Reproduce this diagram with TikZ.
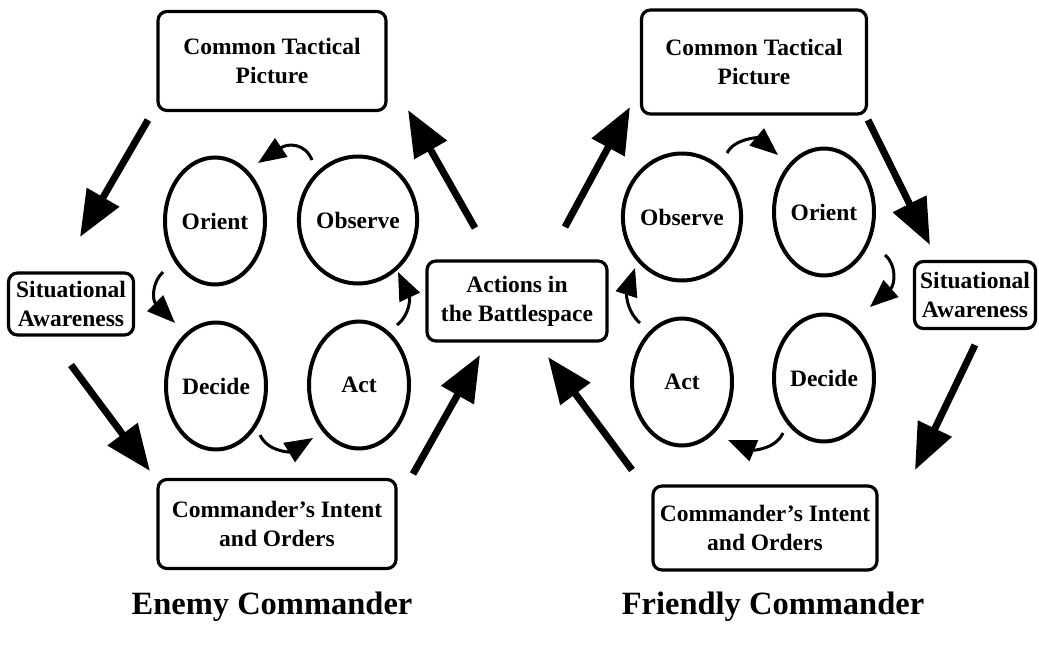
\documentclass[tikz,border=0pt]{standalone}
\usepackage{fontspec}
\setmainfont{Liberation Serif}
\usetikzlibrary{shapes.geometric,arrows.meta}
\begin{document}
\begin{tikzpicture}[x=1pt,y=-1pt,
 box/.style={draw,line width=3.2pt,rounded corners=9pt,align=center,font=\bfseries\fontsize{23.5}{29}\selectfont,inner sep=0pt},
 oval/.style={draw,ellipse,line width=4pt,inner sep=0pt,font=\bfseries\fontsize{23.5}{29}\selectfont,minimum width=100pt,minimum height=127pt},
 big/.style={line width=7pt,-{Triangle[length=46pt,width=36pt]}},
 small/.style={line width=3pt,-{Triangle[length=28pt,width=22pt]}},
 title/.style={font=\bfseries\fontsize{32.5}{38}\selectfont}]
\useasboundingbox (0,0) rectangle (1039,645);
% boxes
\node[box,minimum width=228pt,minimum height=99pt] (ctpL) at (272,61) {Common Tactical\\Picture};
\node[box,minimum width=125pt,minimum height=62pt] (saL) at (71,304) {Situational\\Awareness};
\node[box,minimum width=238pt,minimum height=89pt] (ciL) at (277,524) {Commander's Intent\\and Orders};
\node[box,minimum width=180pt,minimum height=80pt] (act) at (517,301) {Actions in\\the Battlespace};
\node[box,minimum width=225pt,minimum height=104pt] (ctpR) at (754,62) {Common Tactical\\Picture};
\node[box,minimum width=121pt,minimum height=67pt] (saR) at (975,295) {Situational\\Awareness};
\node[box,minimum width=224pt,minimum height=84pt] (ciR) at (765,528) {Commander's Intent\\and Orders};
% ellipses
\node[oval] (oriL) at (215,221) {Orient};
\node[oval] (obsL) at (358,220) {Observe};
\node[oval] (decL) at (216,386) {Decide};
\node[oval] (actL) at (359,385) {Act};
\node[oval] (obsR) at (682,217) {Observe};
\node[oval] (oriR) at (824,212) {Orient};
\node[oval] (actR) at (682,382) {Act};
\node[oval] (decR) at (824,378) {Decide};
% titles
\node[title] (tL) at (272,607) {Enemy Commander};
\node[title] (tR) at (773,607) {Friendly Commander};
% big arrow ends
\coordinate (a1s) at (148,120); \coordinate (a1e) at (80,237);
\coordinate (a2s) at (71,365); \coordinate (a2e) at (150,471);
\coordinate (a3s) at (413,474); \coordinate (a3e) at (480,355);
\coordinate (a4s) at (475,228); \coordinate (a4e) at (408,110);
\coordinate (a5s) at (565,227); \coordinate (a5e) at (630,107);
\coordinate (a6s) at (868,120); \coordinate (a6e) at (930,245);
\coordinate (a7s) at (975,345); \coordinate (a7e) at (915,470);
\coordinate (a8s) at (632,470); \coordinate (a8e) at (548,357);
\draw[big] (a1s) -- (a1e);
\draw[big] (a2s) -- (a2e);
\draw[big] (a3s) -- (a3e);
\draw[big] (a4s) -- (a4e);
\draw[big] (a5s) -- (a5e);
\draw[big] (a6s) -- (a6e);
\draw[big] (a7s) -- (a7e);
\draw[big] (a8s) -- (a8e);
% small curved arrows
\coordinate (b1s) at (312,160); \coordinate (b1e) at (258,163);
\coordinate (b2s) at (163,272); \coordinate (b2e) at (175,323);
\coordinate (b3s) at (260,435); \coordinate (b3e) at (313,438);
\coordinate (b4s) at (397,325); \coordinate (b4e) at (398,272);
\coordinate (c1s) at (727,153); \coordinate (c1e) at (778,155);
\coordinate (c2s) at (885,255); \coordinate (c2e) at (870,307);
\coordinate (c3s) at (783,433); \coordinate (c3e) at (728,440);
\coordinate (c4s) at (640,323); \coordinate (c4e) at (635,268);
\draw[small] (b1s) .. controls (305,143) and (288,143) .. (b1e);
\draw[small] (b2s) .. controls (152,282) and (152,300) .. (b2e);
\draw[small] (b3s) .. controls (268,452) and (290,452) .. (b3e);
\draw[small] (b4s) .. controls (410,315) and (410,298) .. (b4e);
\draw[small] (c1s) .. controls (735,138) and (758,138) .. (c1e);
\draw[small] (c2s) .. controls (897,265) and (895,285) .. (c2e);
\draw[small] (c3s) .. controls (775,450) and (752,450) .. (c3e);
\draw[small] (c4s) .. controls (628,313) and (626,296) .. (c4e);
\end{tikzpicture}
\end{document}
